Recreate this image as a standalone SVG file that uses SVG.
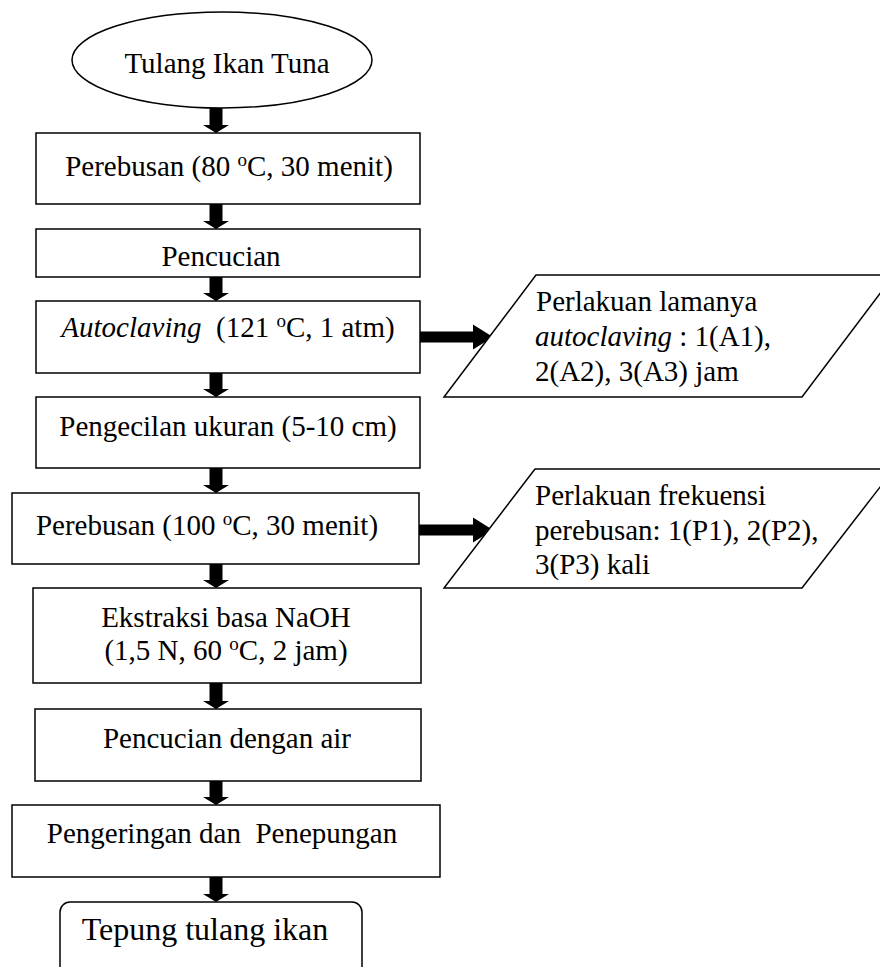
<svg xmlns="http://www.w3.org/2000/svg" width="880" height="967" viewBox="0 0 880 967">
<style>
.box{fill:#fff;stroke:#000;stroke-width:1.5}
.t{font-family:"Liberation Serif","Times New Roman",serif;font-size:29px;fill:#000}
.m{text-anchor:middle}
.arr{fill:#000;stroke:none}
</style>
<rect width="880" height="967" fill="#fff"/>
<g id="connectors">
<path class="arr" d="M209.5 108V125H203L216 133L229 125H222.5V108Z"/>
<path class="arr" d="M209.5 204V221H203L216 229L229 221H222.5V204Z"/>
<path class="arr" d="M209.5 277V293H203L216 301L229 293H222.5V277Z"/>
<path class="arr" d="M209.5 373V389H203L216 397L229 389H222.5V373Z"/>
<path class="arr" d="M209.5 468V485H203L216 493L229 485H222.5V468Z"/>
<path class="arr" d="M209.5 564V580H203L216 588L229 580H222.5V564Z"/>
<path class="arr" d="M209.5 683V701H203L216 709L229 701H222.5V683Z"/>
<path class="arr" d="M209.5 781V797H203L216 805L229 797H222.5V781Z"/>
<path class="arr" d="M209.5 877V894H203L216 902L229 894H222.5V877Z"/>
<path class="arr" d="M420 331.5H473V324.5L493 337L473 349.5V342.5H420Z"/>
<path class="arr" d="M419 524.5H473V517.5L493 530L473 542.5V535.5H419Z"/>
</g>
<g id="n_start">
<ellipse class="box" cx="222" cy="60" rx="150" ry="48"/>
<text class="t m" x="227" y="73">Tulang Ikan Tuna</text>
</g>
<g id="n_rebus80">
<rect class="box" x="36" y="133" width="384" height="71"/>
<text class="t m" x="229" y="176">Perebusan (80 <tspan font-size="19" dy="-10">o</tspan><tspan dy="10">C, 30 menit)</tspan></text>
</g>
<g id="n_cuci">
<rect class="box" x="36" y="229" width="384" height="48"/>
<text class="t m" x="221" y="266">Pencucian</text>
</g>
<g id="n_autoclave">
<rect class="box" x="36" y="301" width="384" height="72"/>
<text class="t m" x="228" y="337" xml:space="preserve"><tspan font-style="italic">Autoclaving</tspan>  (121 <tspan font-size="19" dy="-10">o</tspan><tspan dy="10">C, 1 atm)</tspan></text>
</g>
<g id="n_kecil">
<rect class="box" x="36" y="397" width="384" height="71"/>
<text class="t m" x="228" y="436">Pengecilan ukuran (5-10 cm)</text>
</g>
<g id="n_rebus100">
<rect class="box" x="12" y="493" width="407" height="71"/>
<text class="t m" x="207" y="535">Perebusan (100 <tspan font-size="19" dy="-10">o</tspan><tspan dy="10">C, 30 menit)</tspan></text>
</g>
<g id="n_ekstraksi">
<rect class="box" x="33" y="588" width="388" height="95"/>
<text class="t m" x="226" y="627">Ekstraksi basa NaOH</text>
<text class="t m" x="226" y="660">(1,5 N, 60 <tspan font-size="19" dy="-10">o</tspan><tspan dy="10">C, 2 jam)</tspan></text>
</g>
<g id="n_cuciair">
<rect class="box" x="35" y="709" width="386" height="72"/>
<text class="t m" x="227" y="748">Pencucian dengan air</text>
</g>
<g id="n_kering">
<rect class="box" x="12" y="805" width="428" height="72"/>
<text class="t m" x="222" y="843" xml:space="preserve">Pengeringan dan  Penepungan</text>
</g>
<g id="n_end">
<rect class="box" x="60" y="902" width="302" height="80" rx="10" ry="10"/>
<text class="t m" x="205" y="940" style="font-size:32px">Tepung tulang ikan</text>
</g>
<g id="n_in1">
<polygon class="box" points="536,275 894,275 802,397 444,397"/>
<text class="t" x="536" y="311">Perlakuan lamanya</text>
<text class="t" x="535" y="346"><tspan font-style="italic">autoclaving</tspan> : 1(A1),</text>
<text class="t" x="535" y="381">2(A2), 3(A3) jam</text>
</g>
<g id="n_in2">
<polygon class="box" points="535,469 894,469 802,588 444,588"/>
<text class="t" x="535" y="505">Perlakuan frekuensi</text>
<text class="t" x="535" y="540">perebusan: 1(P1), 2(P2),</text>
<text class="t" x="535" y="574">3(P3) kali</text>
</g>
</svg>
